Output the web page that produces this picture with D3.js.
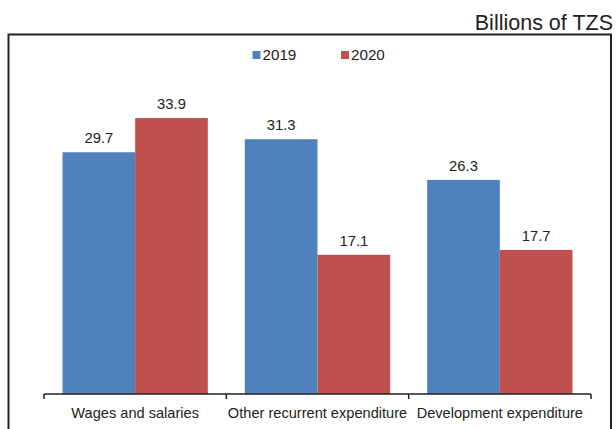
<!DOCTYPE html>
<html>
<head>
<meta charset="utf-8">
<script src="https://cdn.jsdelivr.net/npm/d3@7"></script>
<style>
  html, body { margin: 0; padding: 0; background: #fff; }
  svg { display: block; font-family: "Liberation Sans", Arial, Helvetica, sans-serif; }
</style>
</head>
<body>
<svg id="chart" width="616" height="429"></svg>
<script>
// Expenditure by category, billions of TZS
const categories = ["Wages and salaries", "Other recurrent expenditure", "Development expenditure"];
const seriesNames = ["2019", "2020"];
const values2019 = [29.7, 31.3, 26.3];
const values2020 = [33.9, 17.1, 17.7];
const colors = ["#4F81BD", "#C0504D"];
const unitLabel = "Billions of TZS";

const data = categories.map((c, i) => ({ category: c, values: [values2019[i], values2020[i]] }));

const svg = d3.select("#chart");
const ink = "#222";

// outer frame
svg.append("rect")
  .attr("x", 8.5).attr("y", 34.5)
  .attr("width", 602.5).attr("height", 420)
  .attr("fill", "none").attr("stroke", ink).attr("stroke-width", 2);

// unit label, top right
svg.append("text")
  .attr("x", 613).attr("y", 30)
  .attr("text-anchor", "end")
  .attr("font-size", 21.5)
  .attr("fill", ink)
  .text(unitLabel);

// scales
const x0 = d3.scaleBand().domain(categories).range([44, 591]).paddingInner(0).paddingOuter(0);
const groupPad = 18.5;
const x1 = d3.scaleBand().domain(seriesNames)
  .range([groupPad, x0.bandwidth() - groupPad]).padding(0);
const y = d3.scaleLinear().domain([0, 40]).range([394, 68.4]);

// bars
const groups = svg.append("g").selectAll("g").data(data).join("g")
  .attr("transform", d => `translate(${x0(d.category)},0)`);

groups.selectAll("rect")
  .data(d => d.values.map((v, i) => ({ key: seriesNames[i], value: v, i })))
  .join("rect")
  .attr("x", d => x1(d.key))
  .attr("y", d => y(d.value))
  .attr("width", x1.bandwidth())
  .attr("height", d => y(0) - y(d.value))
  .attr("fill", d => colors[d.i]);

// value labels
groups.selectAll("text.val")
  .data(d => d.values.map((v, i) => ({ key: seriesNames[i], value: v, i })))
  .join("text")
  .attr("class", "val")
  .attr("x", d => x1(d.key) + x1.bandwidth() / 2)
  .attr("y", d => y(d.value) - 9)
  .attr("text-anchor", "middle")
  .attr("font-size", 14.8)
  .attr("fill", ink)
  .text(d => d.value.toFixed(1));

// category axis with boundary ticks
const axisG = svg.append("g");
axisG.append("line")
  .attr("x1", x0.range()[0]).attr("x2", x0.range()[1])
  .attr("y1", 394).attr("y2", 394)
  .attr("stroke", ink).attr("stroke-width", 1.5);

const boundaries = categories.map(c => x0(c)).concat([x0.range()[1]]);
axisG.selectAll("line.tick").data(boundaries).join("line")
  .attr("class", "tick")
  .attr("x1", d => d).attr("x2", d => d)
  .attr("y1", 394).attr("y2", 399)
  .attr("stroke", ink).attr("stroke-width", 1.5);

axisG.selectAll("text.cat").data(categories).join("text")
  .attr("class", "cat")
  .attr("x", d => x0(d) + x0.bandwidth() / 2)
  .attr("y", 418)
  .attr("text-anchor", "middle")
  .attr("font-size", 14.6)
  .attr("fill", ink)
  .text(d => d);

// legend
const legendX = [252.5, 341];
const legend = svg.append("g").selectAll("g").data(seriesNames).join("g")
  .attr("transform", (d, i) => `translate(${legendX[i]},51)`);
legend.append("rect")
  .attr("width", 8).attr("height", 8)
  .attr("fill", (d, i) => colors[i]);
legend.append("text")
  .attr("x", 10).attr("y", 8.8)
  .attr("font-size", 15.2)
  .attr("fill", ink)
  .text(d => d);
</script>
</body>
</html>
